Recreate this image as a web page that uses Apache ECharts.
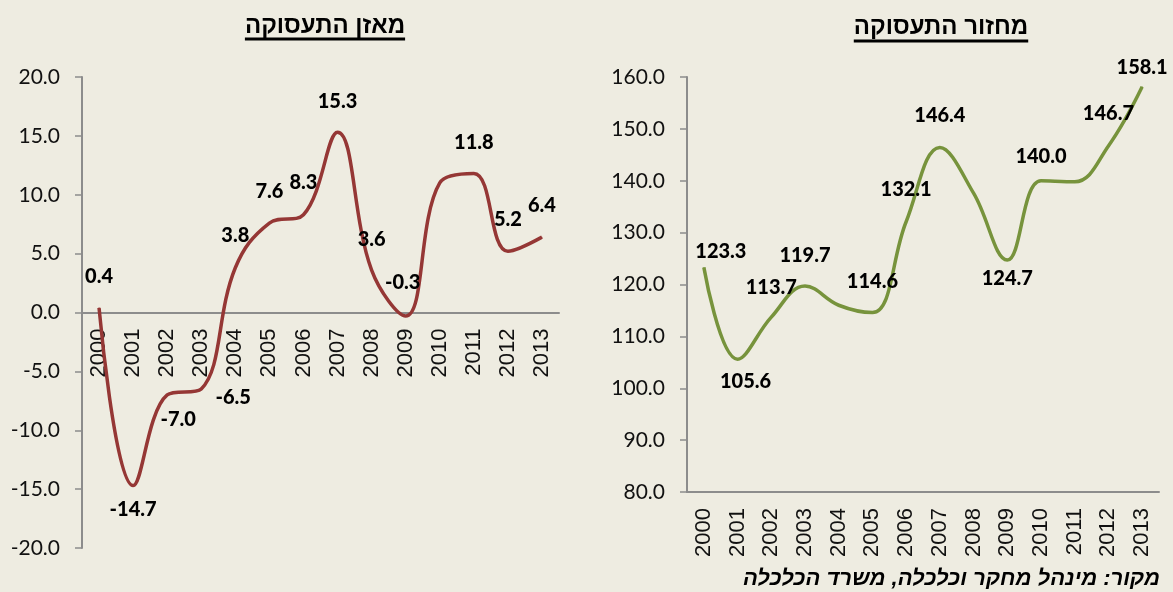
<!DOCTYPE html>
<html lang="he">
  <head>
    <meta charset="UTF-8" />
    <script src="https://cdn.jsdelivr.net/npm/echarts@6/dist/echarts.min.js"></script>
    <style>
      html,
      body {
        margin: 0;
        overflow: hidden;
        background: #eeece1;
      }
      #viewport {
        position: absolute;
        left: 0px;
        top: 0px;
        right: 0px;
        bottom: 0px;
      }
    </style>
  </head>
  <body>
    <div id="viewport"></div>
    <script>
      // data
      var years = ['2000', '2001', '2002', '2003', '2004', '2005', '2006',
        '2007', '2008', '2009', '2010', '2011', '2012', '2013'];
      var balanceValues = [0.4, -14.7, -7.0, -6.5, 3.8, 7.6, 8.3, 15.3, 3.6,
        -0.3, 11.0, 11.8, 5.2, 6.4];
      var turnoverValues = [123.3, 105.6, 113.7, 119.7, 116.0, 114.6, 132.1,
        146.4, 137.6, 124.7, 140.0, 139.8, 146.7, 158.1];
      // points that have no printed value in the original
      var balanceUnlabelled = ['2010'];
      var turnoverUnlabelled = ['2004', '2008', '2011'];
      var balanceAxis = { min: -20, max: 20, interval: 5 };
      var turnoverAxis = { min: 80, max: 160, interval: 10 };
      var leftTitle = 'מאזן התעסוקה';
      var rightTitle = 'מחזור התעסוקה';
      var sourceNote = 'מקור: מינהל מחקר וכלכלה, משרד הכלכלה';

      // label placement (px from the point), as in the original
      var balanceLabelOffset = [[0, -31], [0, 24], [11, 25], [32, 9],
        [0, -32], [0, -31], [0, -32], [0, -31], [0, -31], [-3, -33],
        [0, -31], [0, -31], [0, -32], [0, -32]];
      var turnoverLabelOffset = [[17, -16], [8, 22], [0, -30], [0, -31],
        [0, -31], [0, -31], [0, -32], [0, -32], [0, -31], [0, 18],
        [0, -24], [0, -31], [0, -32], [0, -19]];

      var axisGrey = '#8c8c8c';
      var textColor = '#111';
      var hebFont = '"Liberation Sans", "DejaVu Sans", sans-serif';

      // plot areas, px
      var leftGrid = { left: 82, right: 614, top: 77, bottom: 44 };
      var rightGrid = { left: 687, right: 14, top: 77, bottom: 100 };

      function buildPoints(values, unlabelled, offsets) {
        return values.map(function (v, i) {
          return {
            value: v,
            label: {
              show: unlabelled.indexOf(years[i]) < 0,
              offset: offsets[i]
            }
          };
        });
      }

      function textWidth(text, font) {
        var ctx = document.createElement('canvas').getContext('2d');
        ctx.font = font;
        return ctx.measureText(text).width;
      }

      function titleGraphic(text, cx, cy, underlineY) {
        var font = 'bold 24px ' + hebFont;
        var w = textWidth(text, font);
        return [
          {
            type: 'text',
            x: cx,
            y: cy,
            style: {
              text: text,
              font: font,
              fill: '#000',
              textAlign: 'center',
              textVerticalAlign: 'middle'
            }
          },
          {
            type: 'line',
            shape: { x1: cx - w / 2, y1: underlineY, x2: cx + w / 2, y2: underlineY },
            style: { stroke: '#000', lineWidth: 3 }
          }
        ];
      }

      // the left axis sits on the zero line: shift it up from the bottom
      function zeroOffset(grid, range) {
        var h = 592 - grid.top - grid.bottom;
        if (range.min >= 0) return 0;
        return -h * (0 - range.min) / (range.max - range.min);
      }

      function xAxisFor(gridIndex, offset) {
        return {
          type: 'category',
          gridIndex: gridIndex,
          data: years,
          boundaryGap: true,
          position: 'bottom',
          offset: offset,
          axisLine: { onZero: false, lineStyle: { color: axisGrey, width: 2 } },
          axisTick: { length: 7, lineStyle: { color: axisGrey, width: 1.5 } },
          axisLabel: {
            rotate: 90,
            margin: 16,
            color: textColor,
            fontFamily: hebFont,
            fontSize: 22,
            interval: 0
          }
        };
      }

      function yAxisFor(gridIndex, range) {
        return {
          type: 'value',
          gridIndex: gridIndex,
          min: range.min,
          max: range.max,
          interval: range.interval,
          splitLine: { show: false },
          axisLine: { show: true, onZero: false, lineStyle: { color: axisGrey, width: 2 } },
          axisTick: { show: true, length: 7, lineStyle: { color: axisGrey, width: 1.5 } },
          axisLabel: {
            margin: 22,
            color: textColor,
            fontFamily: 'Lato, sans-serif',
            fontSize: 21,
            formatter: function (v) {
              return v.toFixed(1);
            }
          }
        };
      }

      function lineSeries(gridIndex, values, unlabelled, offsets, color) {
        return {
          type: 'line',
          xAxisIndex: gridIndex,
          yAxisIndex: gridIndex,
          smooth: 0.4,
          symbol: 'circle',
          symbolSize: 1,
          showSymbol: true,
          lineStyle: { color: color, width: 3.5 },
          itemStyle: { color: color },
          label: {
            show: true,
            position: 'inside',
            color: '#000',
            fontFamily: 'Lato, sans-serif',
            fontWeight: 900,
            fontSize: 20,
            formatter: function (p) {
              return p.value.toFixed(1);
            }
          },
          data: buildPoints(values, unlabelled, offsets)
        };
      }

      var myChart = echarts.init(document.getElementById('viewport'));

      var option = {
        animation: false,
        backgroundColor: '#eeece1',
        grid: [
          Object.assign({ outerBoundsMode: 'none', containLabel: false }, leftGrid),
          Object.assign({ outerBoundsMode: 'none', containLabel: false }, rightGrid)
        ],
        xAxis: [
          xAxisFor(0, zeroOffset(leftGrid, balanceAxis)),
          xAxisFor(1, 0)
        ],
        yAxis: [yAxisFor(0, balanceAxis), yAxisFor(1, turnoverAxis)],
        series: [
          lineSeries(0, balanceValues, balanceUnlabelled, balanceLabelOffset, '#953735'),
          lineSeries(1, turnoverValues, turnoverUnlabelled, turnoverLabelOffset, '#77933c')
        ],
        graphic: titleGraphic(leftTitle, 325, 26, 39)
          .concat(titleGraphic(rightTitle, 941, 27, 41))
          .concat([
            {
              type: 'text',
              x: 1160,
              y: 579,
              style: {
                text: sourceNote,
                font: 'italic bold 22px ' + hebFont,
                fill: '#000',
                textAlign: 'right',
                textVerticalAlign: 'middle'
              }
            }
          ])
      };

      myChart.setOption(option);
    </script>
  </body>
</html>
